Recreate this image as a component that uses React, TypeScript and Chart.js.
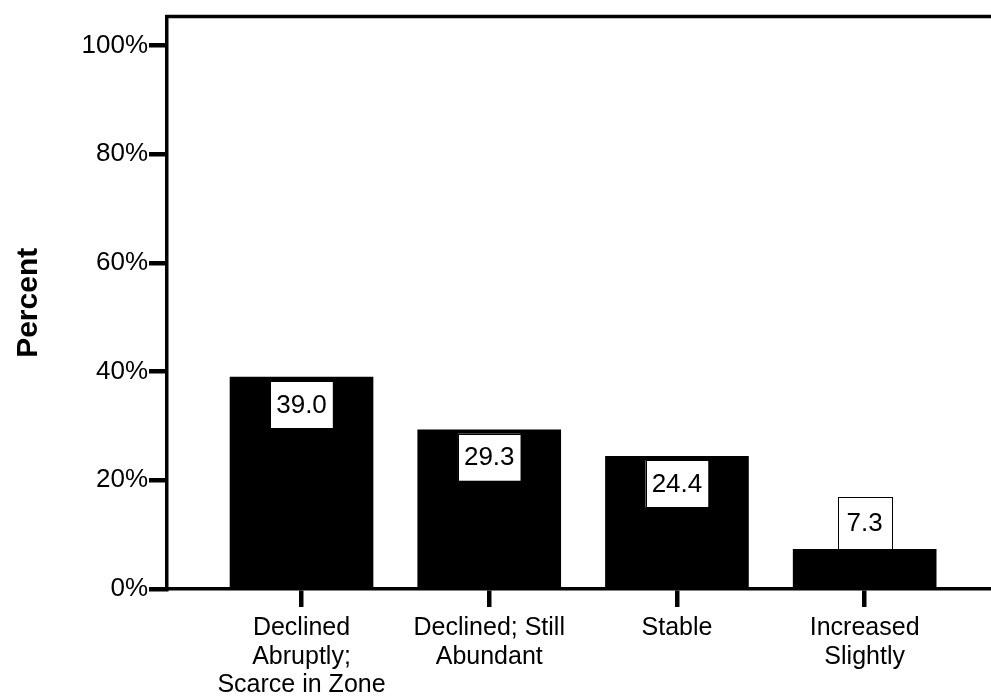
import React, { useEffect, useRef } from "react";
import { Chart, registerables } from "chart.js";

Chart.register(...registerables);

const categories: string[][] = [
  ["Declined", "Abruptly;", "Scarce in Zone"],
  ["Declined; Still", "Abundant"],
  ["Stable"],
  ["Increased", "Slightly"],
];
const values: number[] = [39.0, 29.3, 24.4, 7.3];
const valueLabels: string[] = ["39.0", "29.3", "24.4", "7.3"];
const yTicks: number[] = [0, 20, 40, 60, 80, 100];
const yTitle = "Percent";

const FONT = "'Liberation Sans', Arial, Helvetica, sans-serif";

const framePlugin = {
  id: "framePlugin",
  afterDraw(chart: any) {
    const { ctx, chartArea } = chart;
    ctx.save();
    ctx.strokeStyle = "#000";
    ctx.lineWidth = 3.5;
    ctx.beginPath();
    ctx.moveTo(chartArea.left - 1.5, chartArea.top);
    ctx.lineTo(chartArea.right + 5, chartArea.top);
    ctx.stroke();
    ctx.restore();
  },
};

const labelPlugin = {
  id: "labelPlugin",
  afterDatasetsDraw(chart: any) {
    const { ctx } = chart;
    const meta = chart.getDatasetMeta(0);
    ctx.save();
    ctx.font = `26px ${FONT}`;
    ctx.textAlign = "center";
    ctx.textBaseline = "middle";
    meta.data.forEach((bar: any, i: number) => {
      const text = valueLabels[i];
      const tw = ctx.measureText(text).width;
      const w = Math.max(tw + 12, 54);
      const barH = bar.base - bar.y;
      let top: number;
      let h: number;
      if (barH > 60) {
        h = 47;
        top = bar.y + 4;
      } else {
        h = 52;
        top = bar.y - h;
      }
      const left = bar.x - w / 2;
      ctx.fillStyle = "#fff";
      ctx.fillRect(left, top, w, h);
      ctx.strokeStyle = "#000";
      ctx.lineWidth = 1;
      ctx.strokeRect(Math.round(left) + 0.5, Math.round(top) + 0.5, Math.round(w), Math.round(h));
      ctx.fillStyle = "#000";
      ctx.fillText(text, bar.x, top + h / 2 + 1);
    });
    ctx.restore();
  },
};

export default function App() {
  const ref = useRef<HTMLCanvasElement | null>(null);
  useEffect(() => {
    if (!ref.current) return;
    const chart = new Chart(ref.current, {
      type: "bar",
      data: {
        datasets: [
          {
            data: values.map((v, i) => ({ x: i, y: v })),
            backgroundColor: "#000",
            borderWidth: 0,
            barThickness: 143,
          },
        ],
      },
      options: {
        animation: false,
        responsive: false,
        maintainAspectRatio: false,
        layout: { padding: { top: 14, right: 0, left: 0, bottom: 0 } },
        plugins: {
          legend: { display: false },
          tooltip: { enabled: false },
        },
        scales: {
          x: {
            type: "linear",
            offset: false,
            min: -0.7166,
            max: 3.673,
            afterBuildTicks: (scale: any) => {
              scale.ticks = categories.map((_, i) => ({ value: i }));
            },
            afterFit: (scale: any) => {
              scale.height = 111;
            },
            grid: {
              display: true,
              offset: false,
              drawOnChartArea: false,
              drawTicks: true,
              tickLength: 18,
              lineWidth: 4.5,
              color: "#000",
            },
            border: { display: true, color: "#000", width: 3.5 },
            ticks: {
              autoSkip: false,
              maxRotation: 0,
              minRotation: 0,
              padding: 7,
              color: "#000",
              font: { family: FONT, size: 25, lineHeight: 1.14 },
              callback: (value: any) => categories[Number(value)] ?? "",
            },
          },
          y: {
            type: "linear",
            min: 0,
            max: 105.3,
            afterBuildTicks: (scale: any) => {
              scale.ticks = yTicks.map((v) => ({ value: v }));
            },
            afterFit: (scale: any) => {
              scale.width = 167;
            },
            grid: {
              display: true,
              drawOnChartArea: false,
              drawTicks: true,
              tickLength: 18,
              lineWidth: 4.5,
              color: "#000",
            },
            border: { display: true, color: "#000", width: 3.5 },
            ticks: {
              padding: 1,
              color: "#000",
              font: { family: FONT, size: 26 },
              callback: (value: any) => `${value}%`,
            },
            title: {
              display: true,
              text: yTitle,
              color: "#000",
              font: { family: FONT, size: 30, weight: "bold" },
              padding: { top: 11, bottom: 0 },
            },
          },
        },
      },
      plugins: [framePlugin, labelPlugin],
    });
    return () => chart.destroy();
  }, []);
  return (
    <div style={{ position: "absolute", left: 0, top: 0, width: 991, height: 700, background: "#fff" }}>
      <canvas ref={ref} width={991} height={700} style={{ display: "block", width: 991, height: 700 }} />
    </div>
  );
}
